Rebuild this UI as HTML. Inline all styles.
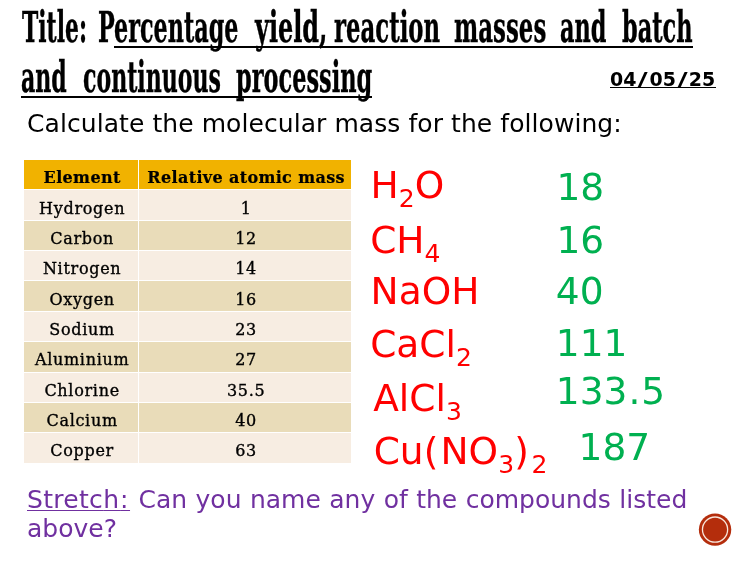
<!DOCTYPE html>
<html><head><meta charset="utf-8">
<style>
html,body{margin:0;padding:0;background:#fff;}
body{width:750px;height:563px;position:relative;overflow:hidden;}
.a{position:absolute;white-space:nowrap;line-height:1;}
.t{font-family:"DejaVu Serif Condensed","DejaVu Serif",serif;font-weight:bold;font-stretch:condensed;font-size:42.5px;color:#000;transform-origin:0 0;-webkit-text-stroke:0.4px #000;}
.v{font-family:"DejaVu Sans","Liberation Sans",sans-serif;}
.f{font-size:37.5px;color:#ff0000;}
.g{font-size:37.5px;color:#00b050;}
.th{font-family:"DejaVu Serif",serif;font-weight:bold;font-size:16px;letter-spacing:0.35px;-webkit-text-stroke:0.2px #000;text-align:center;color:#000;}
.tc{font-family:"DejaVu Serif",serif;font-size:16px;letter-spacing:0.7px;-webkit-text-stroke:0.35px #000;text-align:center;color:#000;}
.ul{position:absolute;background:#000;}
sub{font-size:25px;vertical-align:-9.4px;line-height:0;}
.sl{margin:0 3px;display:inline-block;transform:scaleX(1.5);}
</style></head><body>
<div class="a t" style="left:22.00px;top:5.95px;transform:scaleX(0.5720)">Title:</div>
<div class="a t" style="left:98.22px;top:5.95px;transform:scaleX(0.5832)">Percentage</div>
<div class="a t" style="left:254.63px;top:5.95px;transform:scaleX(0.6265)">yield,</div>
<div class="a t" style="left:334.00px;top:5.95px;transform:scaleX(0.5958)">reaction</div>
<div class="a t" style="left:453.90px;top:5.95px;transform:scaleX(0.5989)">masses</div>
<div class="a t" style="left:560.41px;top:5.95px;transform:scaleX(0.5851)">and</div>
<div class="a t" style="left:622.40px;top:5.95px;transform:scaleX(0.5869)">batch</div>
<div class="a t" style="left:21.42px;top:55.95px;transform:scaleX(0.5774)">and</div>
<div class="a t" style="left:82.92px;top:55.95px;transform:scaleX(0.5767)">continuous</div>
<div class="a t" style="left:236.20px;top:55.95px;transform:scaleX(0.5870)">processing</div>
<div class="ul" style="left:114px;top:45.6px;width:579px;height:2px"></div>
<div class="ul" style="left:21px;top:95.6px;width:351px;height:2px"></div>
<div class="a v" style="left:610px;top:69.53px;font-size:19px;font-weight:bold;">04<span class="sl">/</span>05<span class="sl">/</span>25</div>
<div class="ul" style="left:609.5px;top:86.7px;width:106px;height:1.5px"></div>
<div class="a v" style="left:27px;top:110.55px;font-size:25px;letter-spacing:0.07px;">Calculate the molecular mass for the following:</div>
<div class="a" style="left:23.7px;top:160.00px;width:114.50px;height:29.36px;background:#f1b200"></div>
<div class="a" style="left:139.20px;top:160.00px;width:211.40px;height:29.36px;background:#f1b200"></div>
<div class="a th" style="left:2.15px;width:160px;top:170.36px">Element</div>
<div class="a th" style="left:126.10px;width:240px;top:170.36px">Relative atomic mass</div>
<div class="a" style="left:23.7px;top:190.36px;width:114.50px;height:29.36px;background:#f7ede2"></div>
<div class="a" style="left:139.20px;top:190.36px;width:211.40px;height:29.36px;background:#f7ede2"></div>
<div class="a tc" style="left:2.15px;width:160px;top:200.56px">Hydrogen</div>
<div class="a tc" style="left:126.10px;width:240px;top:200.56px">1</div>
<div class="a" style="left:23.7px;top:220.72px;width:114.50px;height:29.36px;background:#e9dcb9"></div>
<div class="a" style="left:139.20px;top:220.72px;width:211.40px;height:29.36px;background:#e9dcb9"></div>
<div class="a tc" style="left:2.15px;width:160px;top:230.92px">Carbon</div>
<div class="a tc" style="left:126.10px;width:240px;top:230.92px">12</div>
<div class="a" style="left:23.7px;top:251.08px;width:114.50px;height:29.36px;background:#f7ede2"></div>
<div class="a" style="left:139.20px;top:251.08px;width:211.40px;height:29.36px;background:#f7ede2"></div>
<div class="a tc" style="left:2.15px;width:160px;top:261.28px">Nitrogen</div>
<div class="a tc" style="left:126.10px;width:240px;top:261.28px">14</div>
<div class="a" style="left:23.7px;top:281.44px;width:114.50px;height:29.36px;background:#e9dcb9"></div>
<div class="a" style="left:139.20px;top:281.44px;width:211.40px;height:29.36px;background:#e9dcb9"></div>
<div class="a tc" style="left:2.15px;width:160px;top:291.64px">Oxygen</div>
<div class="a tc" style="left:126.10px;width:240px;top:291.64px">16</div>
<div class="a" style="left:23.7px;top:311.80px;width:114.50px;height:29.36px;background:#f7ede2"></div>
<div class="a" style="left:139.20px;top:311.80px;width:211.40px;height:29.36px;background:#f7ede2"></div>
<div class="a tc" style="left:2.15px;width:160px;top:322.00px">Sodium</div>
<div class="a tc" style="left:126.10px;width:240px;top:322.00px">23</div>
<div class="a" style="left:23.7px;top:342.16px;width:114.50px;height:29.36px;background:#e9dcb9"></div>
<div class="a" style="left:139.20px;top:342.16px;width:211.40px;height:29.36px;background:#e9dcb9"></div>
<div class="a tc" style="left:2.15px;width:160px;top:352.36px">Aluminium</div>
<div class="a tc" style="left:126.10px;width:240px;top:352.36px">27</div>
<div class="a" style="left:23.7px;top:372.52px;width:114.50px;height:29.36px;background:#f7ede2"></div>
<div class="a" style="left:139.20px;top:372.52px;width:211.40px;height:29.36px;background:#f7ede2"></div>
<div class="a tc" style="left:2.15px;width:160px;top:382.72px">Chlorine</div>
<div class="a tc" style="left:126.10px;width:240px;top:382.72px">35.5</div>
<div class="a" style="left:23.7px;top:402.88px;width:114.50px;height:29.36px;background:#e9dcb9"></div>
<div class="a" style="left:139.20px;top:402.88px;width:211.40px;height:29.36px;background:#e9dcb9"></div>
<div class="a tc" style="left:2.15px;width:160px;top:413.08px">Calcium</div>
<div class="a tc" style="left:126.10px;width:240px;top:413.08px">40</div>
<div class="a" style="left:23.7px;top:433.24px;width:114.50px;height:29.36px;background:#f7ede2"></div>
<div class="a" style="left:139.20px;top:433.24px;width:211.40px;height:29.36px;background:#f7ede2"></div>
<div class="a tc" style="left:2.15px;width:160px;top:443.44px">Copper</div>
<div class="a tc" style="left:126.10px;width:240px;top:443.44px">63</div>
<div class="a v f" style="left:370.6px;top:166.68px">H<sub>2</sub>O</div>
<div class="a v f" style="left:370.2px;top:221.68px">CH<sub>4</sub></div>
<div class="a v f" style="left:370.6px;top:273.47px">NaOH</div>
<div class="a v f" style="left:370.2px;top:326.47px">CaCl<sub>2</sub></div>
<div class="a v f" style="left:373.2px;top:379.57px">AlCl<sub>3</sub></div>
<div class="a v f" style="left:373.7px;top:433.07px">Cu(<span style="margin-left:2.2px">N</span>O<sub style="margin-left:0.3px">3</sub><span style="margin-left:0px">)</span><sub style="margin-left:2.5px">2</sub></div>
<div class="a v g" style="left:556.5px;top:169.08px">18</div>
<div class="a v g" style="left:556.4px;top:221.97px">16</div>
<div class="a v g" style="left:555.8px;top:272.88px">40</div>
<div class="a v g" style="left:555.8px;top:325.17px">111</div>
<div class="a v g" style="left:555.8px;top:372.88px">133<span style="margin:0 1px">.</span>5</div>
<div class="a v g" style="left:578.6px;top:429.47px">187</div>
<div class="a v" style="left:27px;top:485.20px;font-size:25px;color:#7030a0;line-height:29.3px;white-space:normal;width:680px;word-spacing:0.5px;"><span style="text-decoration:underline;text-underline-offset:2px;text-decoration-thickness:1.2px;letter-spacing:0.3px">Stretc<span style="letter-spacing:1.1px">h</span><span style="letter-spacing:1.5px">:</span></span> Can you name any of the compounds listed above?</div>
<svg class="a" style="left:698px;top:513px" width="34" height="34" viewBox="0 0 34 34">
<circle cx="17.05" cy="16.6" r="16.2" fill="#b42d0c"/>
<circle cx="17.05" cy="16.6" r="12.6" fill="none" stroke="#f8e6dc" stroke-width="1.3"/>
</svg>
</body></html>
